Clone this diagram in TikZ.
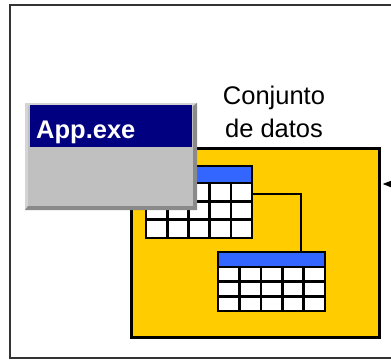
\documentclass[tikz,border=0pt]{standalone}
\usepackage{fontspec}
\setmainfont{Liberation Sans}
\usetikzlibrary{arrows.meta}
\definecolor{dsyellow}{HTML}{FFCC00}
\definecolor{hdrblue}{HTML}{3366FF}
\definecolor{winnavy}{HTML}{000080}
\definecolor{wingray}{HTML}{C0C0C0}
\definecolor{winlight}{HTML}{D4D4D4}
\definecolor{windark}{HTML}{8A8A8A}
\tikzset{
  frame/.style={draw=black!80, line width=2pt},
  dataset/.style={draw=black, line width=2.7pt, fill=dsyellow, inner sep=0pt},
  tline/.style={draw=black, line width=2.6pt},
  conn/.style={draw=black, line width=2.2pt},
  feed/.style={draw=black, line width=1.5pt, -{Triangle[length=12pt,width=9pt]}},
  box/.style={inner sep=0pt, outer sep=0pt},
  lbl/.style={font=\fontsize{25.5}{33}\selectfont, align=center, inner sep=0pt},
  apptext/.style={font=\bfseries\fontsize{25.5}{30}\selectfont, text=white, inner sep=0pt}
}
% table: name, left, top, right, bottom, header bottom
\newcommand\dstable[6]{%
  \node[box, anchor=north west, minimum width={#4-#2}, minimum height={#5-#3}] (#1) at (#2,#3) {};
  \fill[white] (#1.north west) rectangle (#1.south east);
  \fill[hdrblue] (#2,#3) rectangle (#4,#6);
  \pgfmathsetmacro\rowh{(#5-#6)/3}
  \pgfmathsetmacro\colw{(#4-#2)/5}
  \foreach \i in {0,1,2} {\draw[tline] (#2,{#6+\i*\rowh}) -- (#4,{#6+\i*\rowh});}
  \foreach \j in {1,2,3,4} {\draw[tline] ({#2+\j*\colw},#6) -- ({#2+\j*\colw},#5);}
  \draw[tline] (#1.north west) rectangle (#1.south east);
}
\begin{document}
\begin{tikzpicture}[x=1pt, y=-1pt]
\useasboundingbox (0,0) rectangle (391,360);
\clip (0,0) rectangle (391,360);
% outer frame (continues past the right edge)
\draw[frame] (10,5) rectangle (430,358);
% dataset container
\node[dataset, anchor=north west, minimum width=248pt, minimum height=189pt] (ds) at (130,147) {};
\node[lbl, anchor=north] (dslabel) at (274,86) {Conjunto\\de datos};
% incoming arrow from the right
\coordinate (src) at (420,184);
\draw[feed] (src) -- ([xshift=2pt]ds.east |- src);
% tables
\dstable{t1}{146}{166}{252}{238}{183}
\dstable{t2}{218}{252}{325}{311}{267}
\draw[conn] ([shift={(0,28)}]t1.north east) -| ([shift={(-24,0)}]t2.north east);
% application window
\node[box, fill=wingray, anchor=north west, minimum width=172pt, minimum height=107pt] (app) at (25,103) {};
\fill[winlight] (app.north west) -- (app.north east) -- ([shift={(-3,3)}]app.north east)
  -- ([shift={(3,3)}]app.north west) -- ([shift={(3,-4)}]app.south west) -- (app.south west) -- cycle;
\fill[windark] (app.south west) -- (app.south east) -- (app.north east)
  -- ([shift={(-4,3)}]app.north east) -- ([shift={(-4,-4)}]app.south east) -- ([shift={(3,-4)}]app.south west) -- cycle;
\node[box, fill=winnavy, anchor=north west, minimum width=162pt, minimum height=42pt] (title) at (30,105) {};
\node[apptext, anchor=base west] (appname) at (36,138) {App.exe};
\end{tikzpicture}
\end{document}
